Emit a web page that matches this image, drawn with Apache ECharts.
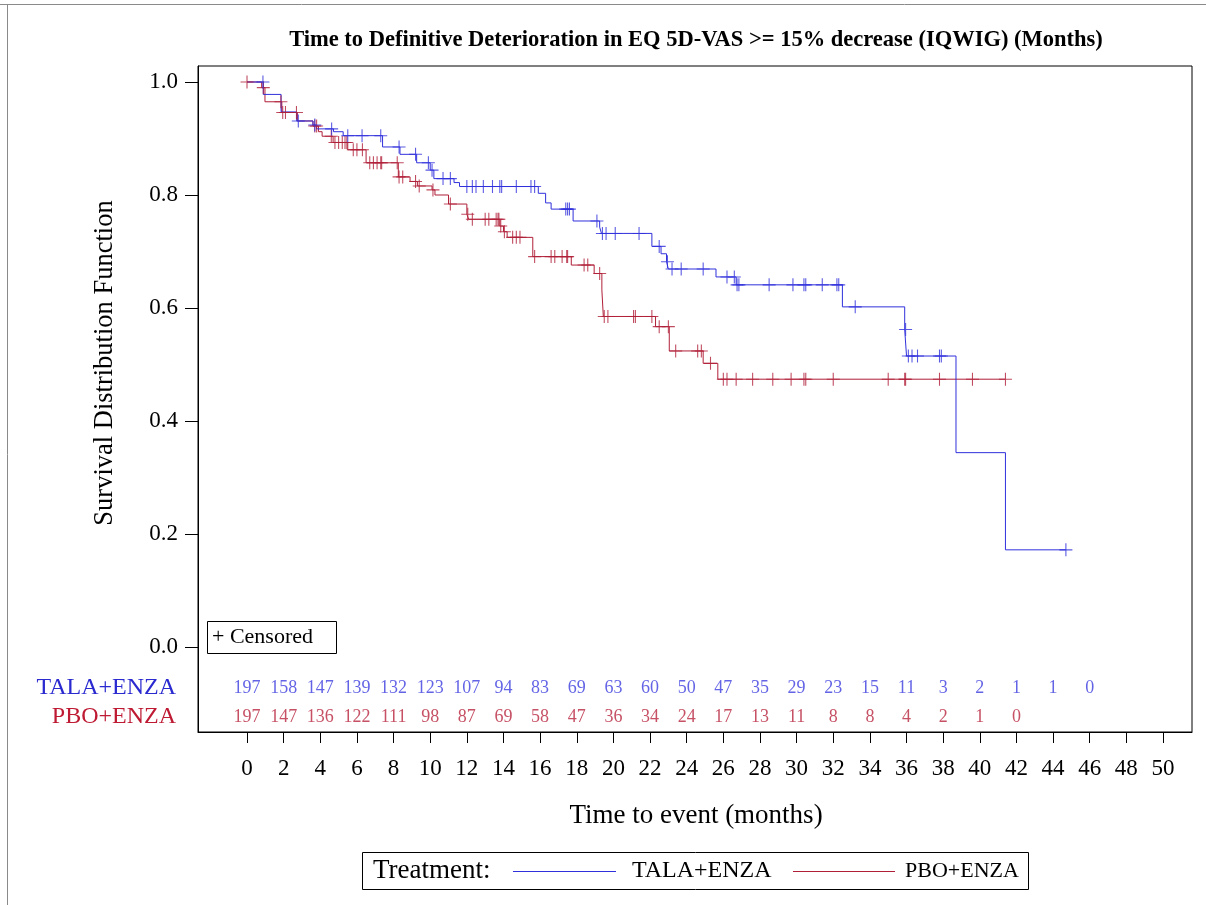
<!DOCTYPE html>
<html><head><meta charset="utf-8">
<script src="https://cdn.jsdelivr.net/npm/echarts@6/dist/echarts.min.js"></script>
<style>html,body{margin:0;padding:0;background:#fff}#c{width:1206px;height:905px}</style>
</head><body><div id="c"></div>
<script>
// ---- data ----
const xTickLabels = [0,2,4,6,8,10,12,14,16,18,20,22,24,26,28,30,32,34,36,38,40,42,44,46,48,50];
const yTickLabels = [0.0,0.2,0.4,0.6,0.8,1.0];
const riskTimes = [0,2,4,6,8,10,12,14,16,18,20,22,24,26,28,30,32,34,36,38,40,42,44,46];
const talaRisk = [197,158,147,139,132,123,107,94,83,69,63,60,50,47,35,29,23,15,11,3,2,1,1,0];
const pboRisk  = [197,147,136,122,111,98,87,69,58,47,36,34,24,17,13,11,8,8,4,2,1,0];

const talaTimes = [0,0.89,1.86,2.71,3.6,3.8,4.72,5.25,7.4,8.35,9.26,10.0,10.2,11.3,11.6,15.9,16.3,16.6,17.8,19.25,19.35,22.1,22.6,22.9,23.0,25.6,26.7,32.5,35.9,36.0,38.7,41.4];
const talaSurv  = [1.0,0.978,0.947,0.931,0.924,0.917,0.912,0.905,0.885,0.872,0.857,0.844,0.829,0.822,0.815,0.803,0.786,0.775,0.754,0.743,0.732,0.709,0.696,0.682,0.669,0.655,0.641,0.602,0.562,0.515,0.344,0.172];
const talaEnd = 44.7;
const talaCensor = [0.87,2.8,3.7,4.62,5.5,6.28,7.3,8.3,9.2,9.9,10.1,10.7,11.1,12.0,12.3,12.5,12.9,13.4,13.8,13.9,14.7,15.5,15.7,17.4,17.5,17.6,19.1,19.4,19.6,20.1,21.4,22.5,22.95,23.2,23.7,24.9,26.2,26.6,26.75,26.85,28.5,29.8,30.4,30.5,31.4,32.2,32.3,33.2,35.95,36.1,36.3,36.6,37.8,37.9,44.7];

const pboTimes = [0,0.8,0.98,1.9,2.75,3.6,3.9,4.1,4.7,5.5,6.5,8.26,8.9,9.3,10.1,10.26,11.0,12.0,12.1,13.8,14.0,14.2,15.6,17.7,18.95,19.37,19.45,22.3,23.05,24.9,25.7];
const pboSurv  = [1.0,0.990,0.965,0.946,0.931,0.922,0.912,0.904,0.893,0.880,0.857,0.832,0.824,0.816,0.809,0.800,0.784,0.766,0.757,0.745,0.735,0.725,0.691,0.676,0.661,0.632,0.585,0.567,0.524,0.502,0.474];
const pboEnd = 41.4;
const pboCensor = [0,0.89,1.85,1.95,2.1,2.7,3.7,3.8,4.6,4.8,5.0,5.2,5.35,5.45,5.8,6.0,6.3,6.7,6.9,7.1,7.3,7.35,8.2,8.3,8.5,9.2,9.4,10.15,11.1,12.05,12.3,13.0,13.2,13.6,13.7,13.75,13.85,14.05,14.5,14.7,14.9,15.7,16.6,16.8,17.2,17.45,17.5,18.4,18.6,19.25,19.5,19.7,21.1,21.2,22.1,22.5,23.0,23.4,24.6,24.8,25.3,26.0,26.2,26.7,27.6,28.7,29.7,30.4,30.5,32.0,35.0,35.9,35.95,37.8,39.6,41.4];

// ---- helpers ----
function stepData(times, surv, end){
  const d = times.map((t,i)=>[t, surv[i]]);
  d.push([end, surv[surv.length-1]]);
  return d;
}
function survAt(times, surv, t){
  let v = surv[0];
  for (let i=0;i<times.length;i++){ if (times[i] <= t) v = surv[i]; }
  return v;
}
const BLUE = '#3030dc', RED = '#b01f38';
const FONT = '"Liberation Serif", "Times New Roman", serif';
const PLUS = 'path://M5.5,0H6.5V5.5H12V6.5H6.5V12H5.5V6.5H0V5.5H5.5Z';
const ROW_TALA = -0.0726, ROW_PBO = -0.1239;

const chart = echarts.init(document.getElementById('c'), null, {renderer:'canvas'});
const option = {
  animation: false,
  backgroundColor: '#fff',
  grid: {left:198, top:66, width:994, height:666, show:true, borderColor:'#000', borderWidth:1, containLabel:false},
  xAxis: {
    type:'value', min:-2.675, max:51.583,
    axisLine:{show:true, onZero:false, lineStyle:{color:'#000'}},
    axisTick:{show:true, customValues:xTickLabels, length:11, lineStyle:{color:'#000'}},
    axisLabel:{show:true, customValues:xTickLabels, margin:25, fontSize:23, color:'#000', fontFamily:FONT},
    splitLine:{show:false}
  },
  yAxis: {
    type:'value', min:-0.1504, max:1.0283,
    axisLine:{show:true, onZero:false, lineStyle:{color:'#000'}},
    axisTick:{show:true, customValues:yTickLabels, length:13, lineStyle:{color:'#000'}},
    axisLabel:{show:true, customValues:yTickLabels, margin:20, fontSize:23, color:'#000', fontFamily:FONT,
      formatter:v=>Number(v).toFixed(1)},
    splitLine:{show:false}
  },
  series: [
    {type:'line', step:'end', data:stepData(talaTimes,talaSurv,talaEnd), showSymbol:false, symbol:'none',
     lineStyle:{color:BLUE, width:1}, silent:true, z:3},
    {type:'line', step:'end', data:stepData(pboTimes,pboSurv,pboEnd), showSymbol:false, symbol:'none',
     lineStyle:{color:RED, width:1}, silent:true, z:2},
    {type:'scatter', data:talaCensor.map(t=>[t, survAt(talaTimes,talaSurv,t)]), symbol:PLUS, symbolSize:13,
     itemStyle:{color:BLUE}, silent:true, z:4},
    {type:'scatter', data:pboCensor.map(t=>[t, survAt(pboTimes,pboSurv,t)]), symbol:PLUS, symbolSize:13,
     itemStyle:{color:RED}, silent:true, z:3},
    {type:'scatter', data:riskTimes.slice(0,talaRisk.length).map((t,i)=>[t, ROW_TALA, talaRisk[i]]),
     symbol:'circle', symbolSize:1, itemStyle:{color:'rgba(0,0,0,0)'}, silent:true,
     label:{show:true, position:'inside', formatter:p=>String(p.value[2]), color:'#3c3ce0', fontSize:18, fontFamily:FONT}},
    {type:'scatter', data:riskTimes.slice(0,pboRisk.length).map((t,i)=>[t, ROW_PBO, pboRisk[i]]),
     symbol:'circle', symbolSize:1, itemStyle:{color:'rgba(0,0,0,0)'}, silent:true,
     label:{show:true, position:'inside', formatter:p=>String(p.value[2]), color:'#b8263e', fontSize:18, fontFamily:FONT}}
  ],
  graphic: [
    {type:'line', shape:{x1:0,y1:4.5,x2:1206,y2:4.5}, style:{stroke:'#8a8a8a', lineWidth:1}, silent:true},
    {type:'line', shape:{x1:7.5,y1:4,x2:7.5,y2:905}, style:{stroke:'#8a8a8a', lineWidth:1}, silent:true},
    {type:'text', x:696, y:40, silent:true, style:{text:'Time to Definitive Deterioration in EQ 5D-VAS >= 15% decrease (IQWIG) (Months)',
      font:'bold 22.5px '+FONT, fill:'#000', textAlign:'center', textVerticalAlign:'middle'}},
    {type:'text', x:105, y:363, rotation:Math.PI/2, silent:true, style:{text:'Survival Distribution Function',
      font:'26.5px '+FONT, fill:'#000', textAlign:'center', textVerticalAlign:'middle'}},
    {type:'text', x:696, y:816, silent:true, style:{text:'Time to event (months)',
      font:'27px '+FONT, fill:'#000', textAlign:'center', textVerticalAlign:'middle'}},
    {type:'text', x:176, y:688, silent:true, style:{text:'TALA+ENZA', font:'24px '+FONT, fill:'#2a2ad0', textAlign:'right', textVerticalAlign:'middle'}},
    {type:'text', x:176, y:717, silent:true, style:{text:'PBO+ENZA', font:'24px '+FONT, fill:'#be1a33', textAlign:'right', textVerticalAlign:'middle'}},
    {type:'rect', shape:{x:207.5,y:621.5,width:129,height:32}, style:{fill:'#fff', stroke:'#000', lineWidth:1}, silent:true, z:10},
    {type:'text', x:212, y:637, silent:true, z:11, style:{text:'+ Censored', font:'22px '+FONT, fill:'#000', textAlign:'left', textVerticalAlign:'middle'}},
    {type:'rect', shape:{x:362.5,y:852.5,width:666,height:37}, style:{fill:'#fff', stroke:'#000', lineWidth:1}, silent:true},
    {type:'text', x:373, y:871, silent:true, style:{text:'Treatment:', font:'27px '+FONT, fill:'#000', textAlign:'left', textVerticalAlign:'middle'}},
    {type:'line', shape:{x1:513,y1:871.5,x2:616,y2:871.5}, style:{stroke:BLUE, lineWidth:1}, silent:true},
    {type:'text', x:632, y:871, silent:true, style:{text:'TALA+ENZA', font:'24px '+FONT, fill:'#000', textAlign:'left', textVerticalAlign:'middle'}},
    {type:'line', shape:{x1:793,y1:871.5,x2:895,y2:871.5}, style:{stroke:RED, lineWidth:1}, silent:true},
    {type:'text', x:905, y:871, silent:true, style:{text:'PBO+ENZA', font:'22px '+FONT, fill:'#000', textAlign:'left', textVerticalAlign:'middle'}}
  ]
};
chart.setOption(option);
</script>
</body></html>
